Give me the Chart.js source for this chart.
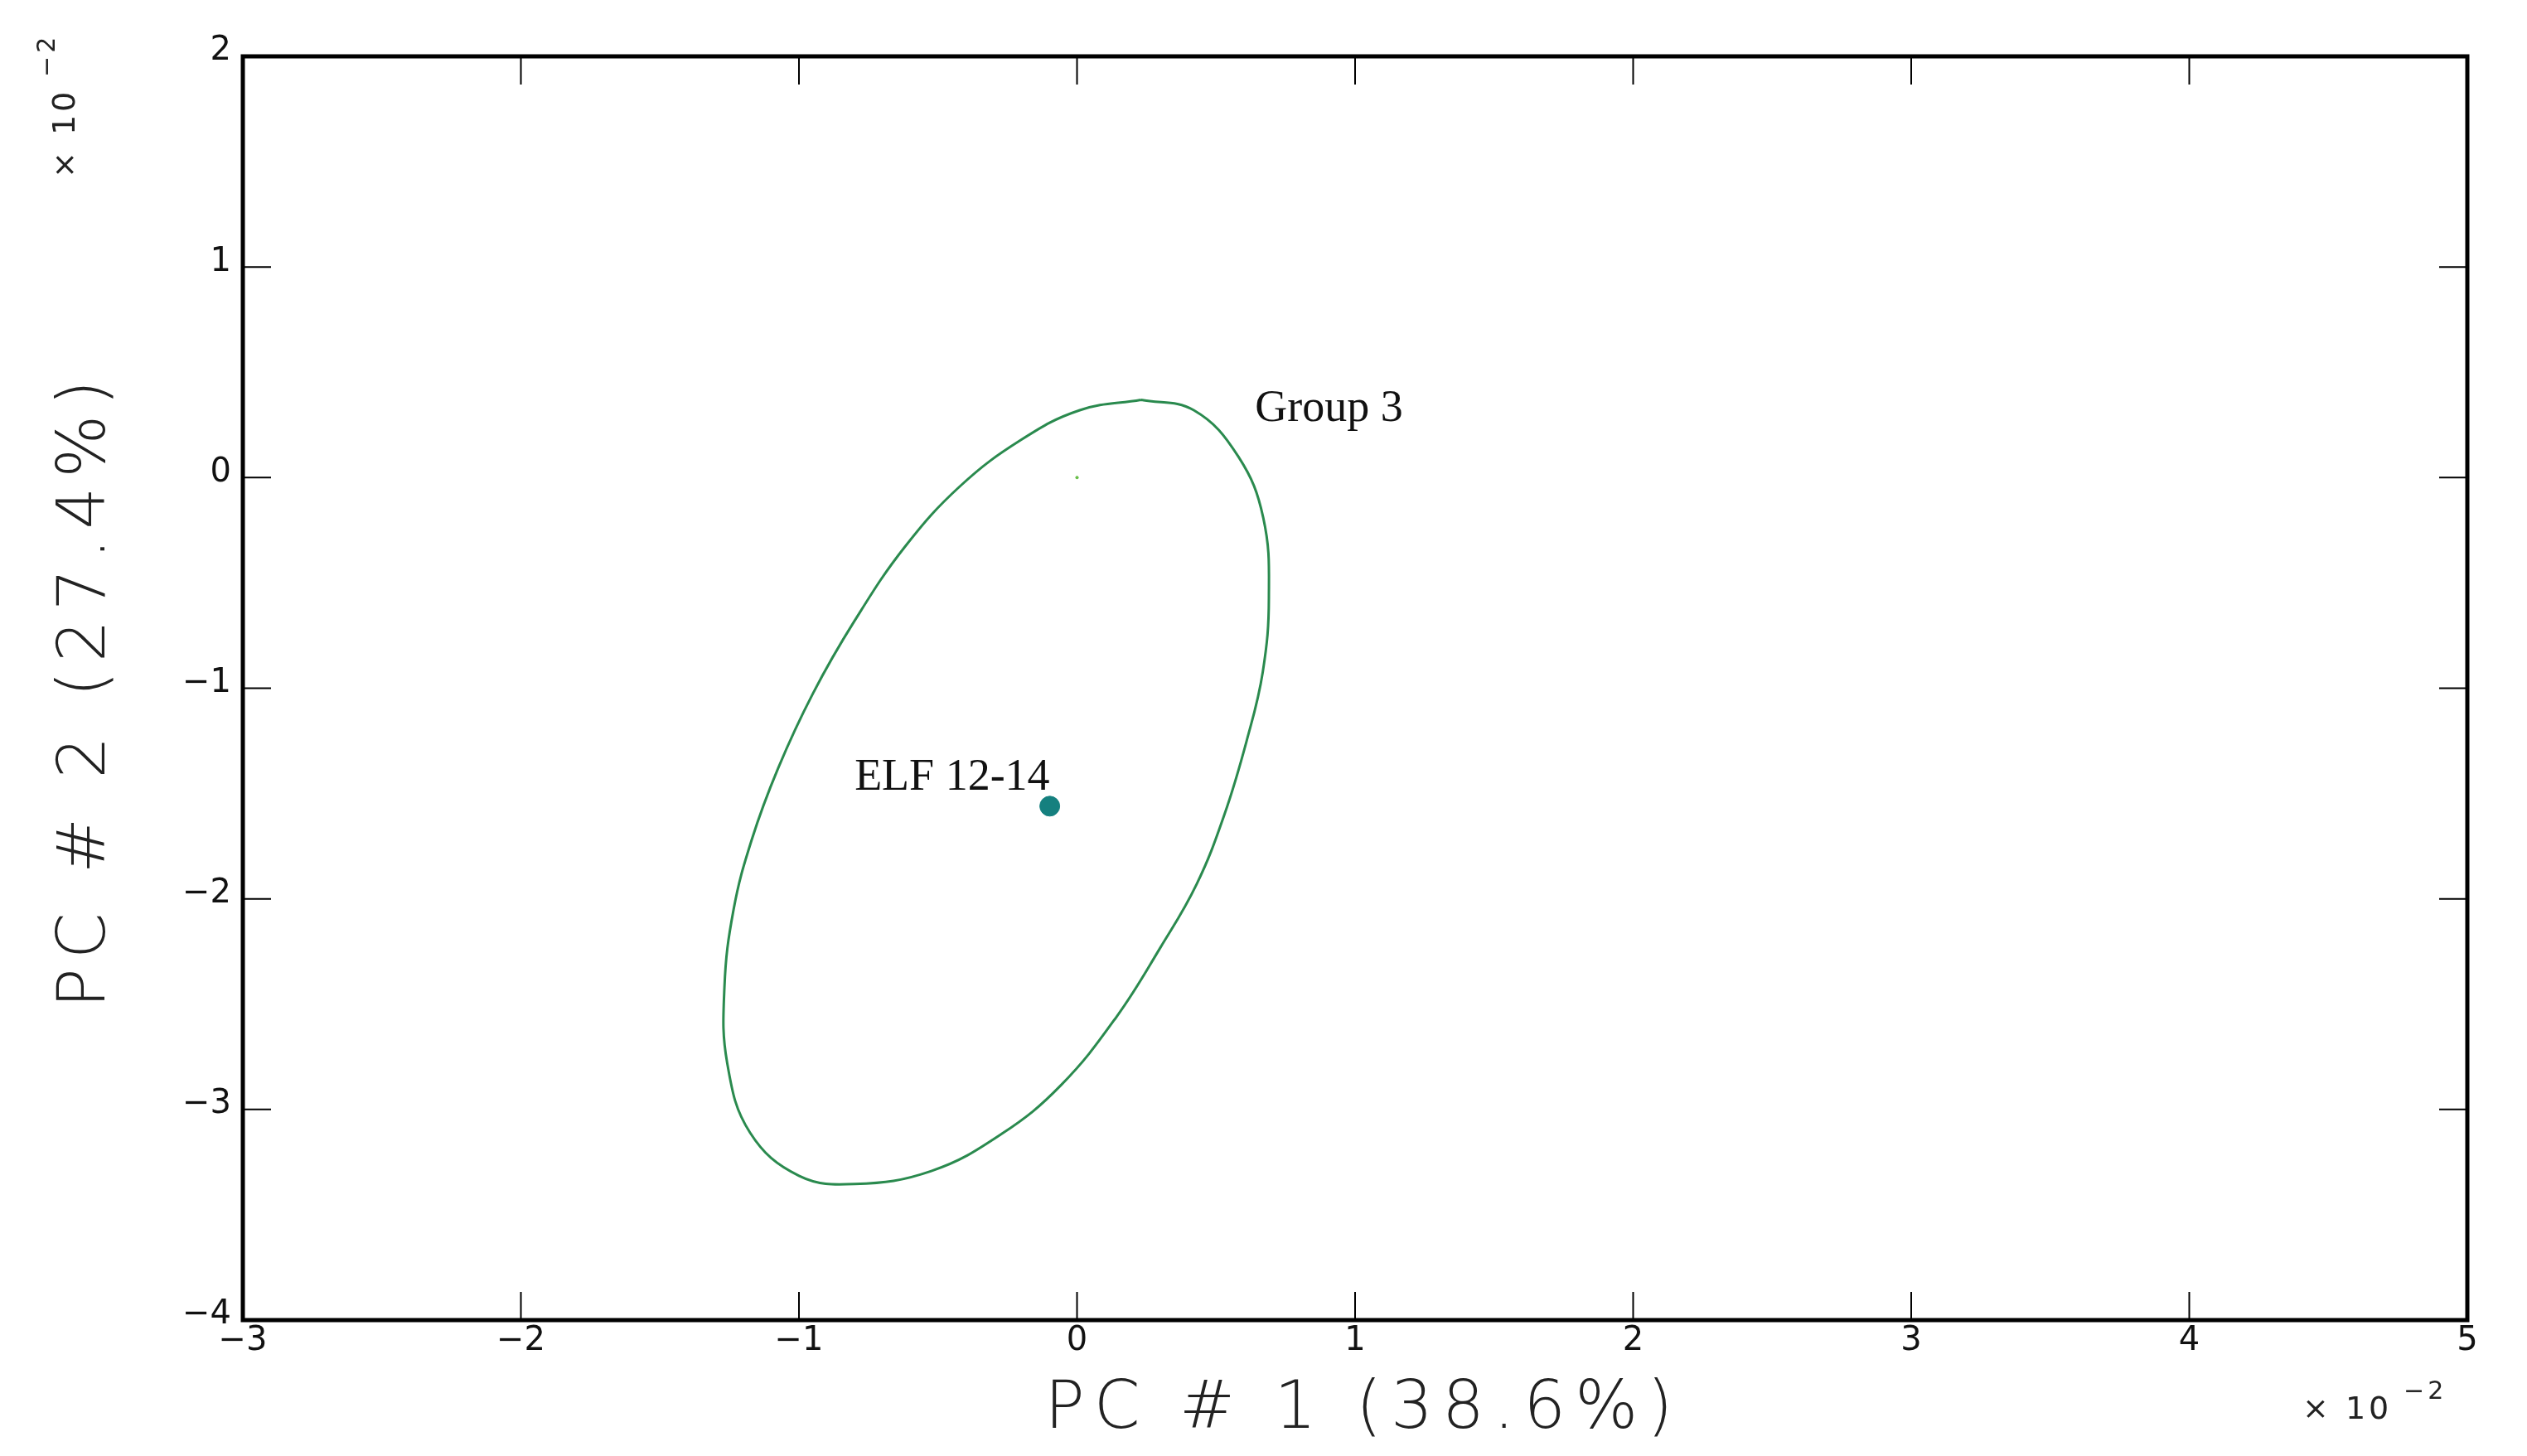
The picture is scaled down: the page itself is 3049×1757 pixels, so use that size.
<!DOCTYPE html>
<html><head><meta charset="utf-8">
<script src="https://cdn.jsdelivr.net/npm/chart.js@4.4.1/dist/chart.umd.min.js"></script>
<style>html,body{margin:0;padding:0;background:#fff}canvas{display:block}</style>
</head><body>
<canvas id="c" width="3049" height="1757"></canvas>
<script>
// Group 3 confidence ellipse outline, units x10^-2
const ellipseX = [0.23,0.420,0.580,0.670,0.690,0.668,0.610,0.530,0.430,0.300,0.141,-0.058,-0.270,-0.524,-0.800,-1.000,-1.176,-1.258,-1.268,-1.235,-1.170,-1.075,-0.949,-0.800,-0.620,-0.420,-0.200,0.010,0.23];
const ellipseY = [0.369,0.320,0.100,-0.192,-0.569,-0.923,-1.250,-1.600,-1.931,-2.231,-2.562,-2.885,-3.115,-3.292,-3.354,-3.315,-3.110,-2.780,-2.420,-2.050,-1.720,-1.380,-1.023,-0.680,-0.330,-0.040,0.180,0.320,0.369];
const sampleX = [-0.098];
const sampleY = [-1.56];
const sampleNames = ["ELF 12-14"];
const groupName = "Group 3";
const xTicks = [-3,-2,-1,0,1,2,3,4,5];
const yTicks = [-4,-3,-2,-1,0,1,2];
const xTitle = "PC # 1 (38.6%)";
const yTitle = "PC # 2 (27.4%)";

const fmt = v => (v < 0 ? "\u2212" + Math.abs(v) : String(v));

const deco = {
  id: 'deco',
  afterDraw(chart) {
    const {ctx, chartArea: a, scales: {x, y}} = chart;
    ctx.save();
    ctx.strokeStyle = '#000';
    ctx.lineWidth = 2;
    const tl = 34;
    xTicks.forEach(v => { const p = x.getPixelForValue(v);
      ctx.beginPath(); ctx.moveTo(p, a.bottom); ctx.lineTo(p, a.bottom - tl);
      ctx.moveTo(p, a.top); ctx.lineTo(p, a.top + tl); ctx.stroke(); });
    yTicks.forEach(v => { const p = y.getPixelForValue(v);
      ctx.beginPath(); ctx.moveTo(a.left, p); ctx.lineTo(a.left + tl, p);
      ctx.moveTo(a.right, p); ctx.lineTo(a.right - tl, p); ctx.stroke(); });
    ctx.lineWidth = 5;
    ctx.strokeRect(a.left, a.top, a.right - a.left, a.bottom - a.top);
    ctx.fillStyle = '#111';
    ctx.font = '40px "DejaVu Sans"';
    ctx.textAlign = 'center'; ctx.textBaseline = 'middle';
    xTicks.forEach(v => ctx.fillText(fmt(v), x.getPixelForValue(v), a.bottom + 26));
    ctx.textAlign = 'right';
    yTicks.forEach(v => ctx.fillText(fmt(v), a.left - 14, y.getPixelForValue(v) - 6));
    // axis titles
    ctx.font = '200 80px "DejaVu Sans"';
    ctx.fillStyle = '#222';
    ctx.letterSpacing = '11px';
    ctx.textAlign = 'center';
    ctx.fillText(xTitle, (a.left + a.right) / 2 + 10, 1702);
    ctx.save();
    ctx.translate(105, 832); ctx.rotate(-Math.PI / 2);
    ctx.fillText(yTitle, 0, 0);
    ctx.restore();
    ctx.letterSpacing = '4px';
    // multipliers
    ctx.font = '38px "DejaVu Sans"';
    ctx.textAlign = 'left';
    ctx.fillText('\u00d7 10', 2778, 1702);
    ctx.font = '30px "DejaVu Sans"';
    ctx.fillText('\u22122', 2900, 1680);
    ctx.save();
    ctx.translate(80, 215); ctx.rotate(-Math.PI / 2);
    ctx.font = '38px "DejaVu Sans"';
    ctx.fillText('\u00d7 10', 0, 0);
    ctx.font = '30px "DejaVu Sans"';
    ctx.fillText('\u22122', 122, -22);
    ctx.restore();
    ctx.letterSpacing = '0px';
    // annotations
    ctx.font = '54px "Liberation Serif"';
    ctx.fillStyle = '#111';
    ctx.textBaseline = 'alphabetic';
    ctx.fillText(groupName, x.getPixelForValue(0.64), y.getPixelForValue(0.27));
    ctx.textAlign = 'right';
    sampleNames.forEach((n, i) => ctx.fillText(n, x.getPixelForValue(sampleX[i]), y.getPixelForValue(sampleY[i] + 0.08)));
    ctx.restore();
  }
};

new Chart(document.getElementById('c'), {
  type: 'scatter',
  data: { datasets: [
    { data: ellipseX.map((v, i) => ({x: v, y: ellipseY[i]})), showLine: true, borderColor: '#2a8a4e', borderWidth: 3, pointRadius: 0, tension: 0.4, fill: false },
    { data: sampleX.map((v, i) => ({x: v, y: sampleY[i]})), pointRadius: 12, backgroundColor: '#15807f', borderColor: '#15807f' },
    { data: [{x: 0, y: 0}], pointRadius: 2, backgroundColor: '#6abf4b', borderWidth: 0 }
  ]},
  options: {
    responsive: false, animation: false,
    layout: { padding: { left: 293, top: 68, right: 72, bottom: 164 } },
    plugins: { legend: { display: false }, tooltip: { enabled: false } },
    scales: {
      x: { type: 'linear', min: -3, max: 5, display: false },
      y: { type: 'linear', min: -4, max: 2, display: false }
    }
  },
  plugins: [deco]
});
</script>
</body></html>
